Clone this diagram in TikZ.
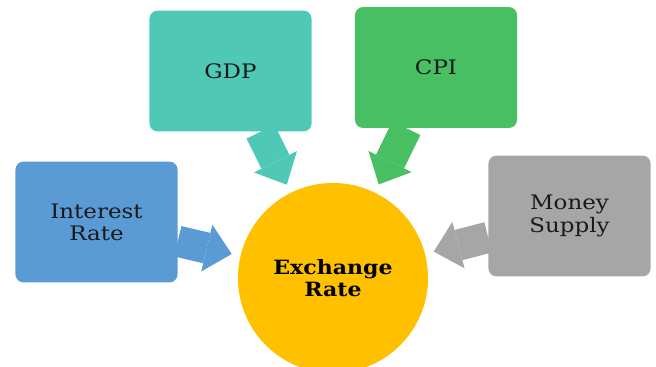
\documentclass[tikz,border=0pt]{standalone}
\usepackage{fontspec}
\setmainfont{DejaVu Serif}
\newfontfamily\cardfont{DejaVu Serif}[FakeStretch=1.15]
\newfontfamily\hubfont{DejaVu Serif}[FakeStretch=1.12]
\usetikzlibrary{arrows.meta,positioning,calc}
\usepackage{xcolor}
\definecolor{rateGold}{HTML}{FFC000}
\definecolor{drvBlue}{HTML}{5B9BD5}
\definecolor{drvTeal}{HTML}{4FC9B5}
\definecolor{drvGreen}{HTML}{47BF62}
\definecolor{drvGrey}{HTML}{A6A6A6}
\definecolor{inkdark}{HTML}{1A1A1A}

\begin{document}
\begin{tikzpicture}[
    x=0.025cm, y=-0.025cm,
    % one flat rounded card per driver, no outline
    card/.style={fill=#1, rounded corners=0.2cm, align=center, text=inkdark,
                 minimum width=4.05cm, minimum height=3.02cm,
                 font=\cardfont\fontsize{14.2}{15.8}\selectfont},
    % the hub everything points at
    hub/.style={circle, fill=rateGold, minimum size=4.75cm, align=center, text=black,
                font=\hubfont\fontsize{14}{15.8}\selectfont\bfseries},
    % fat block arrow in the colour of its card
    push/.style={draw=#1, line width=0.78cm, shorten >=0.22cm,
                 -{Triangle[length=0.64cm, width=1.2cm, line width=0pt]}},
]
\useasboundingbox (0,0) rectangle (656,367);

%================= the drivers =================%
\node[card=drvBlue]  (interest) at (96.5,222)  {Interest\\Rate};
\node[card=drvTeal]  (gdp)      at (230.5,71)  {GDP};
\node[card=drvGreen] (cpi)      at (436,67.5)  {CPI};
\node[card=drvGrey]  (money)    at (569.5,216) {Money\\Supply};

%================= the hub =================%
\node[hub] (rate) at (333,278) {Exchange\\Rate};

%================= influences =================%
\draw[push=drvBlue]  (interest) -- (rate);
\draw[push=drvTeal]  (gdp)      -- (rate);
\draw[push=drvGreen] (cpi)      -- (rate);
\draw[push=drvGrey]  (money)    -- (rate);

\end{tikzpicture}
\end{document}
